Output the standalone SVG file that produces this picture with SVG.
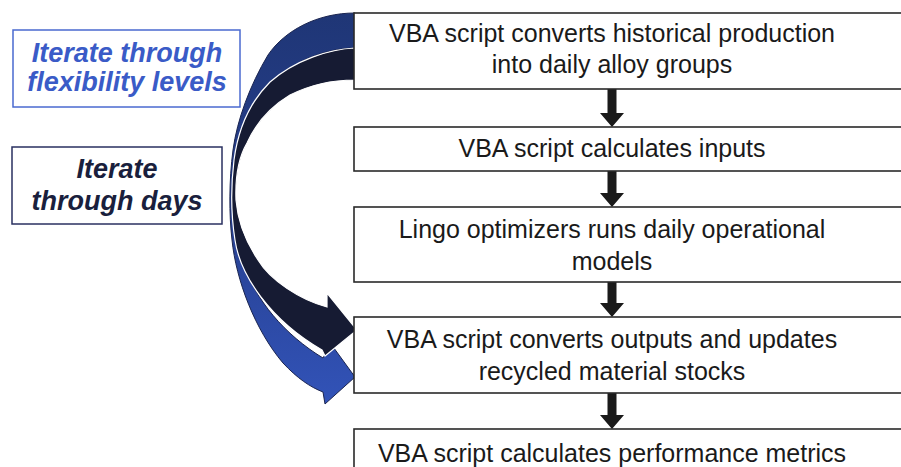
<svg xmlns="http://www.w3.org/2000/svg" width="901" height="467" viewBox="0 0 901 467">
<defs>
<style>
.box{fill:#fff;stroke:#2a2a2a;stroke-width:1.6}
.t{font-family:"Liberation Sans",Arial,sans-serif;font-size:25px;fill:#1a1a1a;text-anchor:middle}
.lbl{font-family:"Liberation Sans",Arial,sans-serif;font-size:27px;font-weight:bold;font-style:italic;text-anchor:middle}
.down{fill:#1a1a1a}
</style>
<linearGradient id="blueG" x1="0" y1="0" x2="0" y2="1">
<stop offset="0" stop-color="#1f3676"/>
<stop offset="0.5" stop-color="#263f8e"/>
<stop offset="1" stop-color="#3253b8"/>
</linearGradient>
</defs>
<rect width="901" height="467" fill="#fff"/>
<g id="connectors">
<path id="loop-flex" fill="url(#blueG)" stroke="#1b2550" stroke-width="1" d="M355,13 C318,13 285,30 268,55 C250,85 237,120 233,150 C229,180 229,215 232,240 C236,280 255,330 283,363 C297,378 310,387 323,392 L325,404 L355,377 L331,344 L323,358 C285,335 255,300 243,262 C236,240 232,215 233,190 C236,140 260,90 300,62 C320,52 340,48 355,48 Z"/>
<path id="loop-days" fill="#161b33" stroke="#ffffff" stroke-width="1.2" d="M355,48 C330,49 295,60 270,82 C250,102 238,130 234,160 C231,185 231,215 235,240 C240,275 270,320 322,350 L325,356 L357,330 L327,293 L327,307 C300,300 270,280 258,260 C248,245 238,225 236,200 C235,175 240,155 247,143 C255,125 270,107 290,95 C310,85 330,80 355,80 Z"/>
<path class="down" d="M607.5,89 H616.5 V113 H624 L612,127 L600,113 H607.5 Z"/>
<path class="down" d="M607.5,171 H616.5 V193 H624 L612,207 L600,193 H607.5 Z"/>
<path class="down" d="M607.5,282 H616.5 V303 H624 L612,317 L600,303 H607.5 Z"/>
<path class="down" d="M607.5,393 H616.5 V415 H624 L612,429 L600,415 H607.5 Z"/>
</g>
<g id="label-flex">
<rect x="13" y="30" width="227" height="77" fill="#fff" stroke="#4a6ad0" stroke-width="1.5"/>
<text class="lbl" x="127" y="62" fill="#3a5bc7">Iterate through</text>
<text class="lbl" x="127" y="91" fill="#3a5bc7">flexibility levels</text>
</g>
<g id="label-days">
<rect x="12" y="147" width="210" height="77" fill="#fff" stroke="#2a3160" stroke-width="1.5"/>
<text class="lbl" x="117" y="178" fill="#1a1f3d">Iterate</text>
<text class="lbl" x="117" y="210" fill="#1a1f3d">through days</text>
</g>
<g id="step1">
<rect class="box" x="354" y="13" width="570" height="76"/>
<text class="t" x="612" y="42">VBA script converts historical production</text>
<text class="t" x="612" y="73">into daily alloy groups</text>
</g>
<g id="step2">
<rect class="box" x="354" y="127" width="570" height="44"/>
<text class="t" x="612" y="157">VBA script calculates inputs</text>
</g>
<g id="step3">
<rect class="box" x="354" y="207" width="570" height="75"/>
<text class="t" x="612" y="238">Lingo optimizers runs daily operational</text>
<text class="t" x="612" y="270">models</text>
</g>
<g id="step4">
<rect class="box" x="354" y="317" width="570" height="76"/>
<text class="t" x="612" y="348">VBA script converts outputs and updates</text>
<text class="t" x="612" y="380">recycled material stocks</text>
</g>
<g id="step5">
<rect class="box" x="354" y="429" width="570" height="60"/>
<text class="t" x="612" y="462">VBA script calculates performance metrics</text>
</g>
</svg>
